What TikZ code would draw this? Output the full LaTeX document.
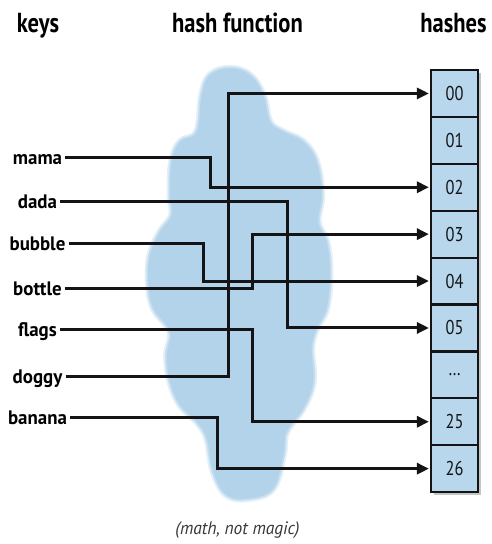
\documentclass[tikz,border=0pt]{standalone}
\usepackage{fontspec}
\setmainfont{PT Sans}[FakeStretch=0.82]
\newfontfamily\labelfont{PT Sans}[FakeStretch=0.97]
\usetikzlibrary{arrows.meta}
\definecolor{cloudblue}{RGB}{178,211,234}
\definecolor{boxblue}{RGB}{184,215,237}
\definecolor{ink}{RGB}{20,20,22}
\tikzset{
  heading/.style={font=\bfseries\fontsize{27.5}{30}\selectfont, anchor=base, inner sep=0pt},
  keylabel/.style={font=\labelfont\bfseries\fontsize{19.5}{21}\selectfont, text height=14pt, text depth=0pt, inner xsep=3pt, inner ysep=0pt},
  hashbox/.style={draw=ink, line width=2.2pt, fill=boxblue, minimum width=47pt, minimum height=46.9pt, inner sep=0pt, font=\fontsize{20}{21}\selectfont, text=ink},
  conn/.style={draw=ink, line width=3pt, line join=miter},
  arrowconn/.style={conn, -{Triangle[length=12pt,width=11pt]}, shorten >=1pt},
}
\begin{document}
\begin{tikzpicture}[x=1pt,y=-1pt]
\useasboundingbox (0,0) rectangle (491,544);
% cloud
\def\cloudpath{plot[smooth cycle, tension=0.65] coordinates {
 (196.7,131.7) (180,141.7) (171.7,161.7) (170,195) (171.7,215) (160,231.7) (150,255)
 (148.3,281.7) (153.3,308.3) (170,331.7) (166.7,355) (170,381.7) (180,405) (196.7,421.7)
 (206.7,438.3) (213.3,471.7) (226.7,495) (250,498.3) (273.3,488.3) (283.3,455) (286.7,431.7)
 (303.3,408.3) (313.3,381.7) (311.7,348.3) (316.7,328.3) (326.7,308.3) (330,271.7) (326.7,241.7)
 (318.3,221.7) (321.7,195) (316.7,161.7) (303.3,141.7) (283.3,131.7) (270,121.7) (263.3,95)
 (250,75) (230,68.3) (210,75) (201.7,95)}}
\draw[cloudblue, line width=7pt, opacity=0.35, line join=round] \cloudpath;
\draw[cloudblue, line width=3.5pt, opacity=0.6, line join=round] \cloudpath;
\fill[cloudblue] \cloudpath;
% headings
\node[heading] (hkeys) at (38,32.5) {keys};
\node[heading] (hfun) at (237.5,32.5) {hash function};
\node[heading] (hhash) at (453.5,32.5) {hashes};
% boxes
\foreach \lab/\nm [count=\i from 0] in {00/h00,01/h01,02/h02,03/h03,04/h04,05/h05,\dots/hdots,25/h25,26/h26}{
  \fill[black!45, opacity=0.5] (433.5,{72.5+46.9*\i}) rectangle (480.5,{119.4+46.9*\i});
  \node[hashbox] (\nm) at (454.5,{93.45+46.9*\i}) {\lab};
}
% keys
\node[keylabel] (mama) at (37.5,157) {mama};
\node[keylabel] (dada) at (37.5,201) {dada};
\node[keylabel] (bubble) at (37.5,243.3) {bubble};
\node[keylabel] (bottle) at (37.5,288.3) {bottle};
\node[keylabel] (flags) at (37.5,329.3) {flags};
\node[keylabel] (doggy) at (37.5,376) {doggy};
\node[keylabel] (banana) at (37.5,417.3) {banana};
% connectors
\draw[arrowconn] (mama.east) -| (h02.west -| 210,0) -- (h02.west);
\draw[arrowconn] (dada.east) -| (h05.west -| 287,0) -- (h05.west);
\draw[arrowconn] (bubble.east) -| (h04.west -| 203,0) -- (h04.west);
\draw[arrowconn] (bottle.east) -| (h03.west -| 252,0) -- (h03.west);
\draw[arrowconn] (flags.east) -| (h25.west -| 252,0) -- (h25.west);
\draw[arrowconn] (doggy.east) -| (h00.west -| 228,0) -- (h00.west);
\draw[arrowconn] (banana.east) -| (h26.west -| 217,0) -- (h26.west);
% caption
\node[font=\labelfont\itshape\fontsize{18}{20}\selectfont, text=ink!85, anchor=base] (cap) at (237.5,534) {(math, not magic)};
\end{tikzpicture}
\end{document}
